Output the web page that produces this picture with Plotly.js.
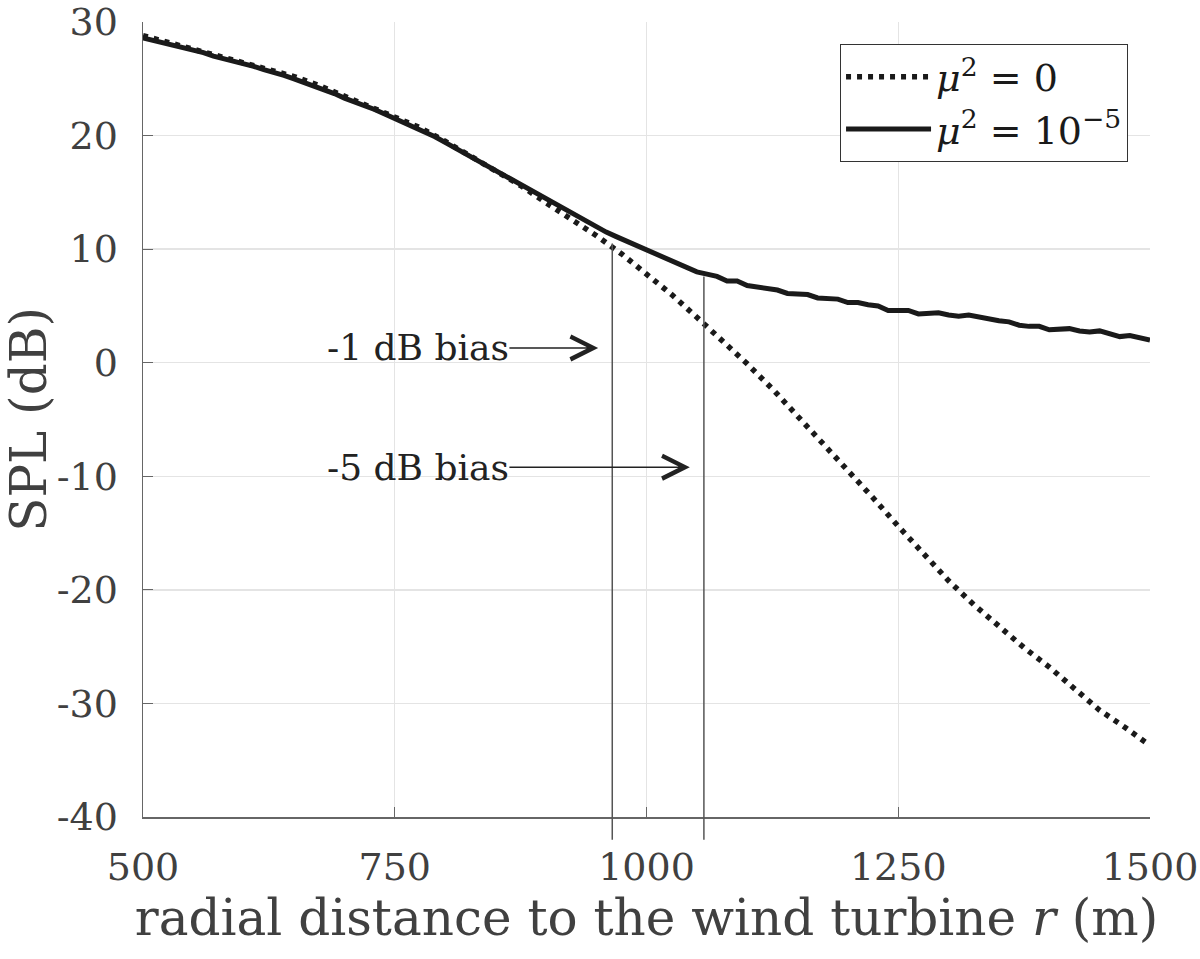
<!DOCTYPE html>
<html>
<head>
<meta charset="utf-8">
<script src="https://cdn.plot.ly/plotly-3.0.1.min.js"></script>
<style>
  html, body { margin: 0; padding: 0; background: #fff; }
  #spl { width: 1200px; height: 959px; }
</style>
</head>
<body>
<div id="spl"></div>
<script>
// radial distance r (m), solid curve sampled every 10 m
const rWithAbs = [500, 510, 520, 530, 540, 550, 560, 570, 580, 590,
  600, 610, 620, 630, 640, 650, 660, 670, 680, 690,
  700, 710, 720, 730, 740, 750, 760, 770, 780, 790,
  800, 810, 820, 830, 840, 850, 860, 870, 880, 890,
  900, 910, 920, 930, 940, 950, 960, 970, 980, 990,
  1000, 1010, 1020, 1030, 1040, 1050, 1060, 1070, 1080, 1090,
  1100, 1110, 1120, 1130, 1140, 1150, 1160, 1170, 1180, 1190,
  1200, 1210, 1220, 1230, 1240, 1250, 1260, 1270, 1280, 1290,
  1300, 1310, 1320, 1330, 1340, 1350, 1360, 1370, 1380, 1390,
  1400, 1410, 1420, 1430, 1440, 1450, 1460, 1470, 1480, 1490, 1500];

// SPL (dB) with absorption, mu^2 = 1e-5
const splWithAbs = [28.6, 28.4, 28.2, 28.0, 27.8, 27.5, 27.3, 27.0, 26.8, 26.5,
  26.3, 26.1, 25.8, 25.6, 25.3, 25.0, 24.7, 24.4, 24.0, 23.7,
  23.3, 23.0, 22.6, 22.3, 21.9, 21.5, 21.1, 20.8, 20.4, 19.9,
  19.4, 18.9, 18.5, 17.9, 17.4, 16.9, 16.5, 16.0, 15.5, 15.0,
  14.5, 14.0, 13.5, 13.0, 12.5, 12.0, 11.5, 11.1, 10.7, 10.3,
  9.9, 9.5, 9.1, 8.7, 8.3, 8.0, 7.8, 7.6, 7.2, 7.2,
  6.8, 6.7, 6.5, 6.4, 6.1, 6.1, 6.0, 5.7, 5.7, 5.6,
  5.3, 5.3, 5.1, 5.0, 4.6, 4.6, 4.6, 4.3, 4.3, 4.4,
  4.2, 4.1, 4.2, 4.0, 3.8, 3.7, 3.6, 3.3, 3.2, 3.2,
  2.9, 2.9, 3.0, 2.8, 2.7, 2.8, 2.5, 2.3, 2.4, 2.2, 2.0];

// mu^2 = 0, sampled every 25 m
const rNoAbs = [500, 525, 550, 575, 600, 625, 650, 675, 700, 725,
  750, 775, 800, 825, 850, 875, 900, 925, 950, 975,
  1000, 1025, 1050, 1075, 1100, 1125, 1150, 1175, 1200, 1225,
  1250, 1275, 1300, 1325, 1350, 1375, 1400, 1425, 1450, 1475, 1500];
const splNoAbs = [28.8, 28.2, 27.7, 27.1, 26.5, 25.9, 25.2, 24.4, 23.5, 22.6,
  21.7, 20.7, 19.5, 18.2, 16.9, 15.6, 14.1, 12.7, 11.2, 9.6,
  7.8, 6.0, 4.0, 2.0, -0.1, -2.3, -4.7, -7.0, -9.4, -11.9,
  -14.4, -16.8, -19.2, -21.3, -23.2, -25.1, -26.8, -28.7, -30.6, -32.1, -33.7];

const xTicks = [500, 750, 1000, 1250, 1500];
const yTicks = [-40, -30, -20, -10, 0, 10, 20, 30];
const yTickText = ['-40', '-30', '-20', '-10', '0', '10', '20', '30'];
const xRange = [500, 1500];
const yRange = [-40, 30];

// bias markers: vertical line x, top of the line, bottom (below the axis)
const biasX = [966, 1057];
const biasTop = [10.5, 7.6];
const biasBottom = -42;
const biasLabels = ['-1 dB bias', '-5 dB bias'];
const biasLabelX = [773, 773];
const biasArrowY = [1.3, -9.2];
const biasArrowTip = [952, 1043];

const serif = 'DejaVu Serif, Liberation Serif, serif';
const grey = '#404040';

const toPaperY = v => (v - yRange[0]) / (yRange[1] - yRange[0]);

const traces = [
  {
    x: rNoAbs, y: splNoAbs,
    mode: 'lines',
    name: '<i>μ</i><sup>2</sup> = 0',
    line: {color: '#1a1a1a', width: 5.5, dash: '5px,6px'}
  },
  {
    x: rWithAbs, y: splWithAbs,
    mode: 'lines',
    name: '<i>μ</i><sup>2</sup> = 10<sup>−5</sup>',
    line: {color: '#1a1a1a', width: 5}
  }
];

const shapes = biasX.map((bx, i) => ({
  type: 'line',
  xref: 'x', yref: 'paper',
  x0: bx, x1: bx,
  y0: toPaperY(biasBottom), y1: toPaperY(biasTop[i]),
  line: {color: '#555', width: 1.5}
}));

const annotations = biasLabels.map((txt, i) => ({
  text: txt,
  x: biasArrowTip[i], y: biasArrowY[i],
  ax: biasLabelX[i], ay: biasArrowY[i],
  xref: 'x', yref: 'y', axref: 'x', ayref: 'y',
  showarrow: true,
  arrowhead: 5, arrowsize: 3.2, arrowwidth: 1.4,
  arrowcolor: '#222',
  font: {family: serif, size: 36, color: '#222'},
  borderpad: 0
}));

const layout = {
  width: 1200, height: 959,
  margin: {l: 143, r: 50, t: 22, b: 142},
  paper_bgcolor: '#fff', plot_bgcolor: '#fff',
  font: {family: serif, color: grey},
  showlegend: true,
  legend: {
    x: 0.978, y: 0.972, xanchor: 'right', yanchor: 'top',
    bgcolor: '#fff', bordercolor: '#333', borderwidth: 1.2,
    font: {family: serif, size: 38, color: '#1a1a1a'},
    itemwidth: 85,
    tracegroupgap: 0
  },
  xaxis: {
    range: xRange,
    tickvals: xTicks,
    ticks: 'inside', ticklen: 10, tickcolor: '#666', tickwidth: 1.2,
    showline: true, linecolor: '#666', linewidth: 1.5, mirror: false,
    showgrid: true, gridcolor: '#e4e4e4', gridwidth: 1.3,
    zeroline: false,
    tickfont: {family: serif, size: 38, color: grey},
    ticklabelstandoff: 16,
    title: {text: 'radial distance to the wind turbine <i>r</i> (m)',
      font: {family: serif, size: 50, color: grey}, standoff: 8}
  },
  yaxis: {
    range: yRange,
    tickvals: yTicks, ticktext: yTickText,
    ticks: 'inside', ticklen: 10, tickcolor: '#666', tickwidth: 1.2,
    showline: true, linecolor: '#666', linewidth: 1.5, mirror: false,
    showgrid: true, gridcolor: '#e4e4e4', gridwidth: 1.3,
    zeroline: false,
    tickfont: {family: serif, size: 38, color: grey},
    ticklabelstandoff: 16,
    title: {text: 'SPL (dB)',
      font: {family: serif, size: 50, color: grey}, standoff: 6}
  },
  shapes: shapes,
  annotations: annotations
};

Plotly.newPlot('spl', traces, layout, {displayModeBar: false, staticPlot: true});
</script>
</body>
</html>
